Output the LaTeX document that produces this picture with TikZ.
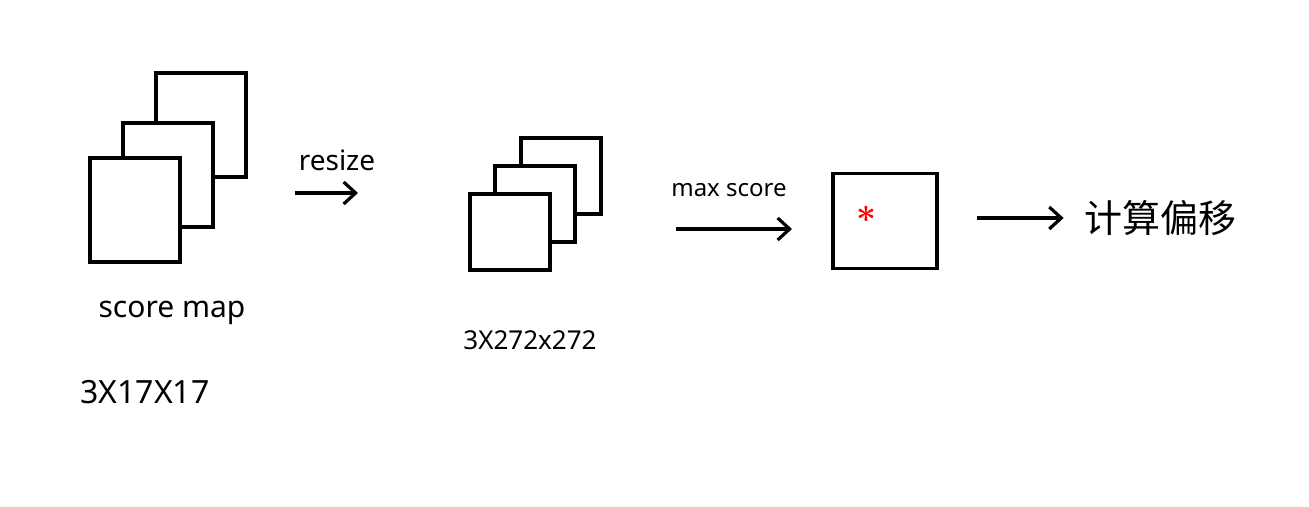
\documentclass[tikz,border=0pt]{standalone}
\usepackage{fontspec}
\setmainfont{Noto Sans}
\newfontfamily\cjk{Noto Sans CJK SC}
\usepackage{tikz}
\usetikzlibrary{arrows.meta,positioning}
\tikzset{
  mapbox/.style={
    draw,
    line width=1.7pt,
    fill=white,
    inner sep=0pt
  },
  bigmap/.style={mapbox, minimum width=45pt, minimum height=52pt},
  smallmap/.style={mapbox, minimum width=40pt, minimum height=38pt},
  peakmap/.style={mapbox, minimum width=52pt, minimum height=47.5pt},
  note/.style={inner sep=0pt, font=\fontsize{14}{16}\selectfont},
  flow/.style={-{Straight Barb[length=6pt,width=11pt,line width=1.6pt]}, line width=1.6pt}
}

\begin{document}
\begin{tikzpicture}[x=0.5pt, y=-0.5pt]
\useasboundingbox (0,0) rectangle (1309,507);

% score map stack, back to front
\node[bigmap] (map1c) at (201,125) {};
\node[bigmap] (map1b) at (168,175) {};
\node[bigmap] (map1a) at (135,210) {};
\node[note, font=\fontsize{15}{17}\selectfont] (scoremap) at (172,313) {score map};
\node[note, font=\fontsize{16}{18}\selectfont] (size1) at (145,392) {3X17X17};

% resized stack
\node[smallmap] (map2c) at (561,176) {};
\node[smallmap] (map2b) at (535,204) {};
\node[smallmap] (map2a) at (510,232) {};
\node[note, font=\fontsize{13}{15}\selectfont] (size2) at (530,340) {3X272x272};

% single map with peak
\node[peakmap] (peak) at (885,221) {};
\node[text=red, inner sep=0pt, font=\boldmath\fontsize{17}{17}\selectfont] (star) at (866,214) {$\ast$};
\node[inner sep=0pt, font=\cjk\fontsize{19}{21}\selectfont] (offset) at (1160,218) {计算偏移};

% arrows
\node[note] (resize) at (337,160) {resize};
\coordinate (r0) at (295,193);
\coordinate (r1) at (358,193);
\draw[flow] (r0) -- (r1);

\node[note, font=\fontsize{12}{14}\selectfont] (maxscore) at (729,190) {max score};
\coordinate (m0) at (676,229);
\coordinate (m1) at (792,229);
\draw[flow] (m0) -- (m1);

\draw[flow, shorten <=19pt, shorten >=10pt] (peak.east |- offset) -- (offset.west);
\end{tikzpicture}
\end{document}
